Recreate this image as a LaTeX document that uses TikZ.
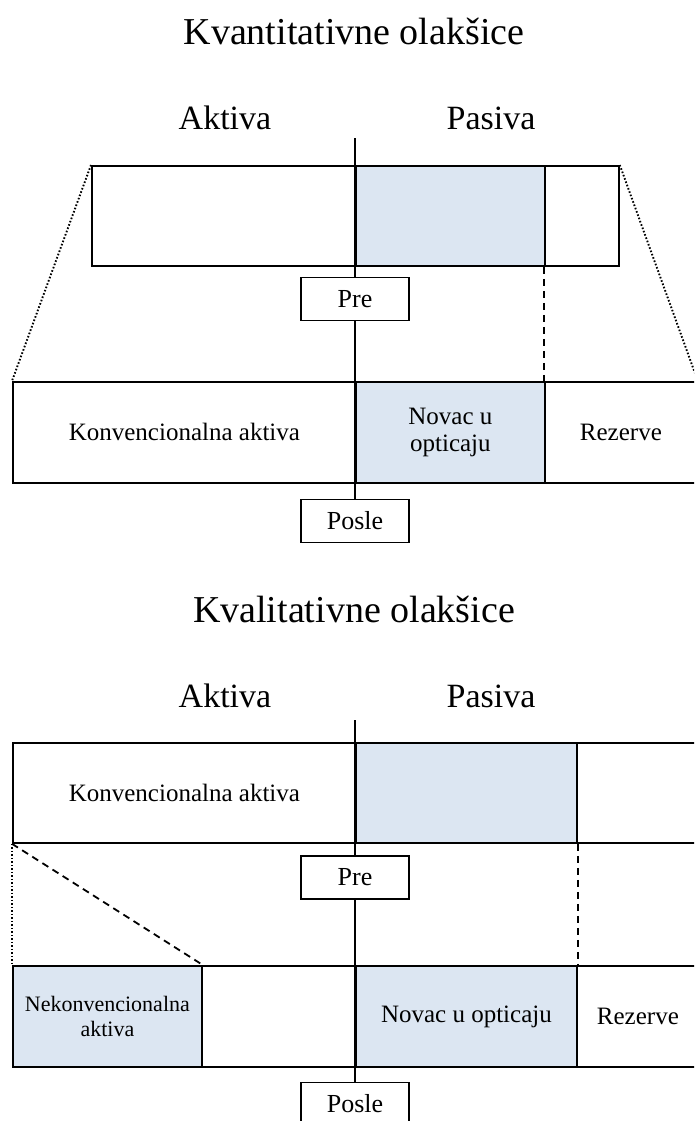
\documentclass[tikz,border=0pt]{standalone}
\usepackage{fontspec}
\setmainfont{Liberation Serif}
\definecolor{qfill}{HTML}{DCE6F2}
\begin{document}
\begin{tikzpicture}[x=1pt,y=-1pt,
  cell/.style={draw, line width=1.8pt, inner sep=0pt, anchor=north west, align=center,
    font=\fontsize{25}{28}\selectfont},
  shaded/.style={fill=qfill},
  tag/.style={draw, line width=1.8pt, minimum width=108pt, minimum height=43pt, inner sep=0pt,
    fill=white, font=\fontsize{26}{28}\selectfont},
  title/.style={anchor=base, font=\fontsize{38}{42}\selectfont},
  head/.style={anchor=base, font=\fontsize{34}{38}\selectfont},
  axis/.style={line width=1.5pt},
  dotline/.style={line width=1.9pt, dash pattern=on 1.6pt off 1.9pt},
  dashline/.style={line width=1.8pt, dash pattern=on 7pt off 5pt}]
\clip (0,0) rectangle (694,1121);
\fill[white] (0,0) rectangle (694,1121);

% ---------- Kvantitativne ----------
\node[title] (t1) at (354,45) {Kvantitativne olakšice};
\node[head] (ak1) at (225,130) {Aktiva};
\node[head] (pa1) at (491,130) {Pasiva};
\coordinate (top1) at (355,138);

\node[cell, minimum width=264pt, minimum height=100pt] (A1) at (91,165) {};
\node[cell, shaded, minimum width=189pt, minimum height=100pt] (B1) at (355,165) {};
\node[cell, minimum width=74pt, minimum height=100pt] (C1) at (544,165) {};

\node[cell, minimum width=343pt, minimum height=101pt] (A2) at (12,381) {Konvencionalna aktiva};
\node[cell, shaded, minimum width=189pt, minimum height=101pt] (B2) at (355,381) {Novac u\\[-1pt]opticaju};
\node[cell, minimum width=152pt, minimum height=101pt] (C2) at (544,381) {Rezerve};

\node[tag] (pre1) at (355,299) {Pre};
\node[tag] (posle1) at (355,521) {Posle};
\draw[axis] (top1) -- (pre1.north);
\draw[axis] (pre1.south) -- (posle1.north);

\draw[dashline] (C1.south west) -- (C2.north west);
\draw[dotline] (A1.north west) -- (A2.north west);
\draw[dotline] (C1.north east) -- (C2.north east);

% ---------- Kvalitativne ----------
\node[title] (t2) at (354,622) {Kvalitativne olakšice};
\node[head] (ak2) at (225,707) {Aktiva};
\node[head] (pa2) at (491,707) {Pasiva};
\coordinate (top2) at (355,720);

\node[cell, minimum width=343pt, minimum height=100pt] (A3) at (12,742) {Konvencionalna aktiva};
\node[cell, shaded, minimum width=221pt, minimum height=100pt] (B3) at (355,742) {};
\node[cell, minimum width=130pt, minimum height=100pt] (C3) at (576,742) {};

\node[cell, shaded, minimum width=189pt, minimum height=101pt,
  font=\fontsize{22}{25}\selectfont] (A4) at (12,965) {Nekonvencionalna\\aktiva};
\node[cell, minimum width=154pt, minimum height=101pt] (A5) at (201,965) {};
\node[cell, shaded, minimum width=221pt, minimum height=101pt] (B4) at (355,965) {Novac u opticaju};
\node[cell, minimum width=122pt, minimum height=101pt] (C4) at (576,965) {Rezerve};

\node[tag] (pre2) at (355,877.5) {Pre};
\node[tag] (posle2) at (355,1104) {Posle};
\draw[axis] (top2) -- (pre2.north);
\draw[axis] (pre2.south) -- (posle2.north);

\draw[dotline] (A3.south west) -- (A4.north west);
\draw[dashline] (A3.south west) -- (A4.north east);
\draw[dashline] (B3.south east) -- (B4.north east);
\end{tikzpicture}
\end{document}
